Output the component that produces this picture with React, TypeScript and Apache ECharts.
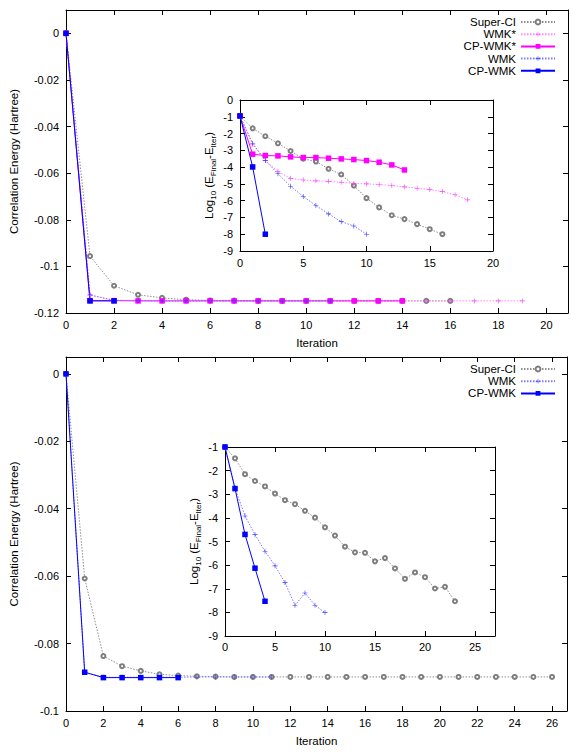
import React, { useEffect, useRef } from 'react';
import * as echarts from 'echarts';

const FONT = '"Liberation Sans", Arial, Helvetica, sans-serif';

// ---------- Top panel: main plot (Correlation energy vs iteration) ----------
const superCI_top = [0, -0.0956, -0.1083, -0.1122, -0.1135, -0.1143, -0.1146, -0.1147, -0.1148, -0.1148, -0.1148, -0.1148, -0.1148, -0.1148, -0.1148, -0.1148, -0.1148];
const wmkStar_top = [0, -0.1124, -0.1145, -0.1147, -0.1148, -0.1148, -0.1148, -0.1148, -0.1148, -0.1148, -0.1148, -0.1148, -0.1148, -0.1148, -0.1148, -0.1148, -0.1148, -0.1148, -0.1148, -0.1148];
const cpWmkStar_top = [0, -0.1147, -0.1147, -0.1148, -0.1148, -0.1148, -0.1148, -0.1148, -0.1148, -0.1148, -0.1148, -0.1148, -0.1148, -0.1148, -0.1148];
const wmk_top = [0, -0.1122, -0.1146, -0.1147, -0.1148, -0.1148, -0.1148, -0.1148, -0.1148, -0.1148, -0.1148, -0.1148];
const cpWmk_top = [0, -0.1148, -0.1148];

// ---------- Top panel: inset (log10 error) ----------
const superCI_ins1 = [-0.95, -1.69, -2.16, -2.58, -3.04, -3.5, -3.67, -4.1, -4.44, -5.1, -5.85, -6.4, -6.87, -7.1, -7.4, -7.7, -8.0];
const wmkStar_ins1 = [-0.95, -2.65, -3.6, -4.25, -4.67, -4.77, -4.82, -4.85, -4.9, -4.97, -5.0, -5.04, -5.1, -5.18, -5.26, -5.34, -5.46, -5.65, -5.95];
const cpWmkStar_ins1 = [-0.95, -3.23, -3.31, -3.33, -3.39, -3.43, -3.43, -3.47, -3.51, -3.55, -3.61, -3.71, -3.87, -4.17];
const wmk_ins1 = [-0.95, -2.58, -3.6, -4.4, -5.14, -5.75, -6.29, -6.79, -7.25, -7.51, -8.0];
const cpWmk_ins1 = [-0.95, -3.99, -8.0];

// ---------- Bottom panel: main plot ----------
const superCI_bot = [0, -0.0607, -0.0837, -0.0867, -0.0881, -0.0891, -0.0895, -0.0897, -0.0898, -0.0899, -0.0899, -0.0899, -0.0899, -0.0899, -0.0899, -0.0899, -0.0899, -0.0899, -0.0899, -0.0899, -0.0899, -0.0899, -0.0899, -0.0899, -0.0899, -0.0899, -0.0899];
const wmk_bot = [0, -0.0885, -0.0900, -0.0900, -0.0900, -0.0900, -0.0900, -0.0899, -0.0899, -0.0899, -0.0899, -0.0899];
const cpWmk_bot = [0, -0.0885, -0.0901, -0.0901, -0.0901, -0.0901, -0.0901];

// ---------- Bottom panel: inset ----------
const superCI_ins2 = [-1, -1.48, -2.15, -2.44, -2.67, -2.97, -3.25, -3.42, -3.7, -3.99, -4.4, -4.75, -5.22, -5.46, -5.48, -5.84, -5.7, -6.14, -6.58, -6.31, -6.51, -6.99, -6.92, -7.53];
const wmk_ins2 = [-1, -2.74, -3.92, -4.71, -5.41, -6.03, -6.74, -7.7, -7.18, -7.7, -8.01];
const cpWmk_ins2 = [-1, -2.76, -4.7, -6.13, -7.53];

const legendTop = ['Super-CI', 'WMK*', 'CP-WMK*', 'WMK', 'CP-WMK'];
const legendBottom = ['Super-CI', 'WMK', 'CP-WMK'];

const PLUS = 'path://M4.4,0H5.6V4.4H10V5.6H5.6V10H4.4V5.6H0V4.4H4.4Z';

type Style = { line: string; marker: string; dotted: boolean; symbol: string; size: number };
const STYLES: Record<string, Style> = {
  'Super-CI': { line: '#8e8e8e', marker: '#7e7e7e', dotted: true, symbol: 'emptyCircle', size: 4 },
  'WMK*': { line: '#ff88ff', marker: '#ff40ff', dotted: true, symbol: PLUS, size: 5 },
  'CP-WMK*': { line: '#ff00ff', marker: '#ff00ff', dotted: false, symbol: 'rect', size: 5.5 },
  'WMK': { line: '#7a7aff', marker: '#3a3aff', dotted: true, symbol: PLUS, size: 5 },
  'CP-WMK': { line: '#0000ff', marker: '#0000ff', dotted: false, symbol: 'rect', size: 5.5 },
};

function series(name: string, values: number[], axisIndex: number) {
  const s = STYLES[name];
  return {
    type: 'line',
    name,
    xAxisIndex: axisIndex,
    yAxisIndex: axisIndex,
    data: values.map((v, i) => [i, v]),
    symbol: s.symbol,
    symbolSize: s.size,
    showSymbol: true,
    lineStyle: { color: s.line, width: 1, type: s.dotted ? [1.5, 1.5] : 'solid' },
    itemStyle: { color: s.marker, borderColor: s.marker, borderWidth: s.symbol === 'emptyCircle' ? 0.7 : 0 },
    emphasis: { disabled: true },
  };
}

const fmtNum = (v: number) => String(parseFloat(v.toFixed(4)));

function axes(grid: number, xmin: number, xmax: number, xint: number, xStep: number,
  ymin: number, ymax: number, yint: number, yShowMax: boolean, xName: string | null, yName: any, yNameGap: number, xLabelMargin: number) {
  const tick = { show: true, inside: true, length: 5, lineStyle: { color: '#000', width: 1 } };
  const line = { show: true, onZero: false, lineStyle: { color: '#000', width: 1 } };
  const label = { fontSize: 11, color: '#000', fontFamily: FONT };
  const xs = [
    {
      type: 'value', gridIndex: grid, min: xmin, max: xmax, interval: xint, position: 'bottom',
      axisLine: line, axisTick: tick, splitLine: { show: false },
      axisLabel: {
        ...label, margin: xLabelMargin,
        formatter: (v: number) => (Math.abs(v / xStep - Math.round(v / xStep)) < 1e-6 && v <= xmax ? fmtNum(v) : ''),
      },
      name: xName || '', nameLocation: 'middle', nameGap: 24,
      nameTextStyle: { fontSize: 11.5, color: '#000', fontFamily: FONT },
    },
    {
      type: 'value', gridIndex: grid, min: xmin, max: xmax, interval: xint, position: 'top',
      axisLine: line, axisTick: tick, splitLine: { show: false }, axisLabel: { show: false },
    },
  ];
  const ys = [
    {
      type: 'value', gridIndex: grid, min: ymin, max: ymax, interval: yint, position: 'left',
      axisLine: line, axisTick: tick, splitLine: { show: false },
      axisLabel: {
        ...label, margin: 7,
        formatter: (v: number) => (!yShowMax && Math.abs(v - ymax) < 1e-9 ? '' : fmtNum(v)),
      },
      name: yName.text, nameLocation: 'middle', nameGap: yNameGap, nameRotate: 90,
      nameTextStyle: { fontSize: 11.5, color: '#000', fontFamily: FONT, rich: yName.rich },
    },
    {
      type: 'value', gridIndex: grid, min: ymin, max: ymax, interval: yint, position: 'right',
      axisLine: line, axisTick: tick, splitLine: { show: false }, axisLabel: { show: false },
    },
  ];
  return { xs, ys };
}

const logName = {
  text: '{n|Log}{s|10}{n| (E}{s|Final}{n|-E}{s|Iter}{n|)}',
  rich: {
    n: { fontSize: 11.5, lineHeight: 16, fontFamily: FONT, color: '#000' },
    s: { fontSize: 8, lineHeight: 8, verticalAlign: 'bottom', fontFamily: FONT, color: '#000' },
  },
};
const energyName = { text: 'Correlation Energy (Hartree)', rich: undefined };

export default function App() {
  const ref = useRef<HTMLDivElement>(null);
  useEffect(() => {
    if (!ref.current) return;
    const chart = echarts.init(ref.current, undefined, { renderer: 'svg' });

    const a0 = axes(0, 0, 20.9, 2, 2, -0.12, 0.01, 0.02, false, 'Iteration', energyName, 46, 6);
    const a1 = axes(1, 0, 20, 5, 5, -9, 0, 1, true, null, logName, 23, 6);
    const a2 = axes(2, 0, 26.8, 2, 2, -0.1, 0.005, 0.02, false, 'Iteration', energyName, 46, 6);
    const a3 = axes(3, 0, 27, 5, 5, -9, -1, 1, true, null, logName, 23, 5);

    const xAxis = [a0.xs[0], a0.xs[1], a1.xs[0], a1.xs[1], a2.xs[0], a2.xs[1], a3.xs[0], a3.xs[1]];
    const yAxis = [a0.ys[0], a0.ys[1], a1.ys[0], a1.ys[1], a2.ys[0], a2.ys[1], a3.ys[0], a3.ys[1]];

    const seriesList = [
      series('Super-CI', superCI_top, 0),
      series('WMK*', wmkStar_top, 0),
      series('CP-WMK*', cpWmkStar_top, 0),
      series('WMK', wmk_top, 0),
      series('CP-WMK', cpWmk_top, 0),
      series('Super-CI', superCI_ins1, 2),
      series('WMK*', wmkStar_ins1, 2),
      series('CP-WMK*', cpWmkStar_ins1, 2),
      series('WMK', wmk_ins1, 2),
      series('CP-WMK', cpWmk_ins1, 2),
      series('Super-CI', superCI_bot, 4),
      series('WMK', wmk_bot, 4),
      series('CP-WMK', cpWmk_bot, 4),
      series('Super-CI', superCI_ins2, 6),
      series('WMK', wmk_ins2, 6),
      series('CP-WMK', cpWmk_ins2, 6),
    ];

    const legendCommon = {
      orient: 'vertical', align: 'right', right: 22, itemWidth: 34, itemHeight: 6, itemGap: 0.2, padding: 0,
      selectedMode: false,
      textStyle: { fontSize: 11.5, color: '#000', fontFamily: FONT, lineHeight: 11.5 },
    };

    chart.setOption({
      animation: false,
      backgroundColor: '#fff',
      grid: [
        { left: 65, top: 10, width: 503, height: 303 },
        { left: 240, top: 100, width: 253, height: 151 },
        { left: 66, top: 357, width: 501, height: 354 },
        { left: 225, top: 447, width: 270, height: 189 },
      ],
      xAxis,
      yAxis,
      legend: [
        { ...legendCommon, top: 16, data: legendTop },
        { ...legendCommon, top: 363, data: legendBottom },
      ],
      series: seriesList,
    });
    return () => chart.dispose();
  }, []);
  return <div ref={ref} style={{ position: 'absolute', left: 0, top: 0, width: 578, height: 752 }} />;
}
